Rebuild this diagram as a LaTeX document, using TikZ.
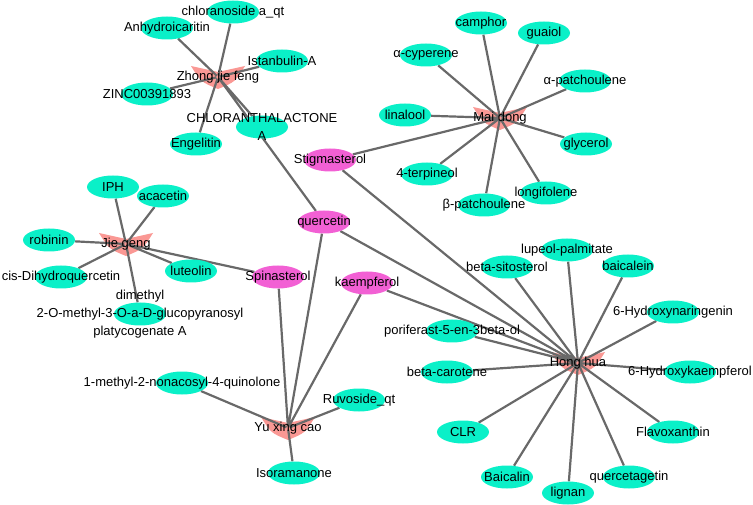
\documentclass[tikz,border=0pt]{standalone}
\usepackage{fontspec}
\setmainfont{Liberation Sans}
\usepackage{xcolor}
\usetikzlibrary{shapes.geometric,backgrounds}

\definecolor{compcol}{RGB}{10,240,200}
\definecolor{sharedcol}{RGB}{242,96,212}
\definecolor{herbcol}{RGB}{250,152,148}
\definecolor{edgecol}{RGB}{105,105,105}

\begin{document}
\begin{tikzpicture}[
  x=1pt, y=-1pt,
  font=\fontsize{13}{18}\selectfont,
  comp/.style={ellipse, fill=compcol, minimum width=52pt, minimum height=23pt,
               inner sep=0pt, label={[align=center]center:#1}},
  shared/.style={comp=#1, fill=sharedcol},
  herb/.style={circle, inner sep=0pt, minimum size=3pt, label={center:#1}},
  vmark/.style={fill=herbcol},
  e/.style={draw=edgecol, line width=2.2pt}
]
\useasboundingbox (0,0) rectangle (753,505);

% herbs
\node[herb=Zhong jie feng] (zhong) at (218,77) {};
\node[herb=Mai dong] (mai) at (500,118) {};
\node[herb=Jie geng] (jie) at (126,244) {};
\node[herb=Yu xing cao] (yu) at (288,428) {};
\node[herb=Hong hua] (hong) at (578,363) {};

% shared compounds
\node[shared=Stigmasterol] (stigma) at (330,160) {};
\node[shared=quercetin] (querc) at (324,222) {};
\node[shared=Spinasterol] (spina) at (278,277) {};
\node[shared=kaempferol] (kaemp) at (367,283) {};

% Zhong jie feng
\node[comp=chloranoside a\_qt] (chlo) at (233,12) {};
\node[comp=Anhydroicaritin] (anhydro) at (167,28) {};
\node[comp=Istanbulin-A] (istan) at (282,61) {};
\node[comp=ZINC00391893] (zinc) at (147,94) {};
\node[comp={CHLORANTHALACTONE\\A}] (chlorA) at (262,127) {};
\node[comp=Engelitin] (engel) at (196,144) {};

% Mai dong
\node[comp=camphor] (camphor) at (481,23) {};
\node[comp=guaiol] (guaiol) at (544,33) {};
\node[comp=α-cyperene] (acyp) at (426,55) {};
\node[comp=α-patchoulene] (apatch) at (585,81) {};
\node[comp=linalool] (linalool) at (405,115) {};
\node[comp=glycerol] (glycerol) at (586,144) {};
\node[comp=4-terpineol] (terp) at (427,174) {};
\node[comp=longifolene] (longi) at (546,193) {};
\node[comp=β-patchoulene] (bpatch) at (484,205) {};

% Jie geng
\node[comp=IPH] (iph) at (113,187) {};
\node[comp=acacetin] (acacetin) at (163,196) {};
\node[comp=robinin] (robinin) at (49,240) {};
\node[comp=cis-Dihydroquercetin] (cisdq) at (61,277) {};
\node[comp=luteolin] (luteolin) at (191,271) {};
\node[comp={dimethyl\\2-O-methyl-3-O-a-D-glucopyranosyl\\platycogenate A}] (dimethyl) at (140,314) {};

% Yu xing cao
\node[comp=1-methyl-2-nonacosyl-4-quinolone] (quino) at (182,383) {};
\node[comp=Ruvoside\_qt] (ruvo) at (359,400) {};
\node[comp=Isoramanone] (isora) at (294,473) {};

% Hong hua
\node[comp=lupeol-palmitate] (lupeol) at (567,250) {};
\node[comp=beta-sitosterol] (bsito) at (507,267) {};
\node[comp=baicalein] (baicalein) at (628,266) {};
\node[comp=6-Hydroxynaringenin] (hnar) at (673,312) {};
\node[comp=poriferast-5-en-3beta-ol] (pori) at (452,331) {};
\node[comp=beta-carotene] (bcar) at (447,372) {};
\node[comp=6-Hydroxykaempferol] (hkaem) at (690,372) {};
\node[comp=CLR] (clr) at (463,432) {};
\node[comp=Flavoxanthin] (flavo) at (673,432) {};
\node[comp=Baicalin] (baicalin) at (507,477) {};
\node[comp=lignan] (lignan) at (568,493) {};
\node[comp=quercetagetin] (qgetin) at (629,477) {};

\begin{scope}[on background layer]
  % herb marks
  \foreach \h in {zhong,mai,jie,yu,hong}
    \fill[vmark] (\h) ++(-27,-11) .. controls ++(10,16) .. ++(27,23)
                 .. controls ++(17,-7) .. ++(27,-23) -- ++(-27,6) -- cycle;
  % edges
  \draw[e] (zhong) -- (chlo) (zhong) -- (anhydro) (zhong) -- (istan) (zhong) -- (zinc)
           (zhong) -- (chlorA) (zhong) -- (engel) (zhong) -- (querc);
  \draw[e] (mai) -- (camphor) (mai) -- (guaiol) (mai) -- (acyp) (mai) -- (apatch)
           (mai) -- (linalool) (mai) -- (glycerol) (mai) -- (terp) (mai) -- (longi)
           (mai) -- (bpatch) (mai) -- (stigma);
  \draw[e] (jie) -- (iph) (jie) -- (acacetin) (jie) -- (robinin) (jie) -- (cisdq)
           (jie) -- (luteolin) (jie) -- (dimethyl) (jie) -- (spina);
  \draw[e] (yu) -- (quino) (yu) -- (ruvo) (yu) -- (isora) (yu) -- (querc)
           (yu) -- (kaemp) (yu) -- (spina);
  \draw[e] (hong) -- (lupeol) (hong) -- (bsito) (hong) -- (baicalein) (hong) -- (hnar)
           (hong) -- (pori) (hong) -- (bcar) (hong) -- (hkaem) (hong) -- (clr)
           (hong) -- (flavo) (hong) -- (baicalin) (hong) -- (lignan) (hong) -- (qgetin)
           (hong) -- (stigma) (hong) -- (querc) (hong) -- (kaemp);
\end{scope}
\end{tikzpicture}
\end{document}
